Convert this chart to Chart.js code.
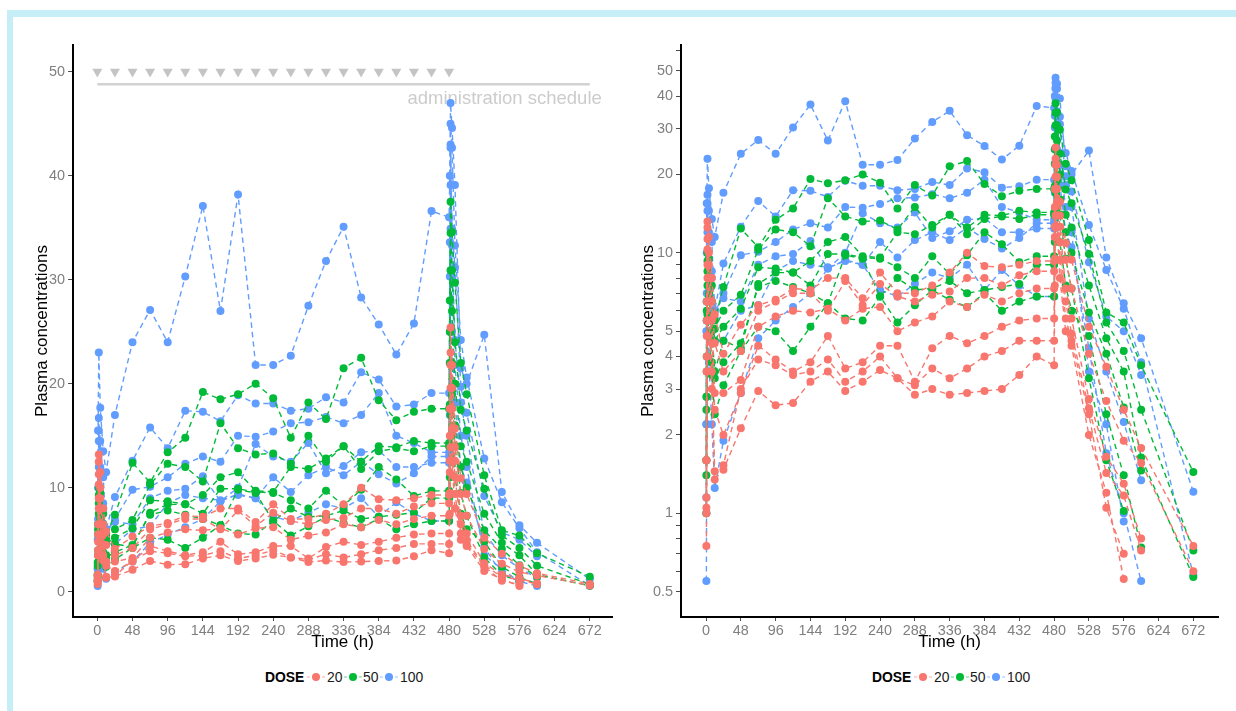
<!DOCTYPE html>
<html>
<head>
<meta charset="utf-8">
<script src="https://cdn.jsdelivr.net/npm/chart.js"></script>
<style>
  html, body { margin:0; padding:0; }
  body { width:1236px; height:711px; background:#fff; position:relative; overflow:hidden;
         font-family:"Liberation Sans", Arial, Helvetica, sans-serif; }
  #frameTop { position:absolute; left:7px; top:10px; width:1229px; height:7px; background:#c6eef6; }
  #frameLeft { position:absolute; left:7px; top:10px; width:6px; height:701px; background:#c6eef6; }
  canvas { position:absolute; top:0; }
  #cL { left:0; }
  #cR { left:618px; }
  .lg { position:absolute; top:667px; height:20px; width:200px; }
  .lg span { position:absolute; top:0; line-height:20px; font-size:13.9px; color:#1a1a1a; white-space:nowrap; }
  .lg span.b { font-weight:bold; color:#000; }
  .lg svg { position:absolute; top:4px; }
</style>
</head>
<body>
<div id="frameTop"></div>
<div id="frameLeft"></div>
<canvas id="cL" width="618" height="660"></canvas>
<canvas id="cR" width="618" height="660"></canvas>
<div class="lg" id="lgL" style="left:265px"></div>
<div class="lg" id="lgR" style="left:872px"></div>
<script>
// ---------------- DATA ----------------
const times = [0.5, 1, 2, 4, 8, 12, 24, 48, 72, 96, 120, 144, 168, 192, 216, 240, 264, 288, 312, 336, 360, 384, 408, 432, 456, 480, 481, 482, 484, 488, 496, 504, 528, 552, 576, 600, 672];

const doseLevels = ['20', '50', '100'];
const doseColors = ['#F8766D', '#00BA38', '#619CFF'];

// DOSE 20
const d20_s1 = [1.6, 6.5, 13.2, 11.5, 8.0, 5.8, 4.1,  5.3, 6.3, 6.6, 7.3, 7.2, 8.0, 8.0, 6.7, 8.4, 7.0, 7.0, 7.5, 8.4, 10.0, 8.9, 8.8, 9.0, 9.3,  9.3, 17.6, 25.4, 21.8, 15.7, 10.9, 9.4, 5.2, 3.65, 2.5, 1.78, 0.75];
const d20_s2 = [1.15, 5.5, 12.5, 10.0, 6.5, 4.5, 3.5,  4.2, 6.0, 6.5, 7.0, 7.0, 6.0, 7.8, 6.3, 7.6, 6.8, 6.5, 6.9, 7.1, 8.0, 8.0, 7.5, 8.2, 8.5,  8.5, 15.0, 23.0, 19.6, 13.9, 9.4, 7.3, 4.1, 2.7, 1.9, 1.56, 0.60];
const d20_s3 = [1.05, 4.8, 11.3, 9.0, 5.5, 2.9, 2.9,  3.25, 5.2, 5.7, 6.0, 5.9, 6.1, 5.5, 6.1, 6.2, 5.0, 5.4, 5.7, 6.5, 6.2, 6.9, 6.5, 7.0, 7.3,  7.3, 12.6, 21.8, 17.6, 12.6, 7.3, 5.6, 2.75, 1.65, 1.3, 0.8, null];
const d20_s4 = [0.75, 3.5, 10.3, 8.0, 4.5, 2.5, 2.0,  2.9, 4.4, 3.9, 3.5, 3.8, 4.8, 3.6, 3.8, 4.4, 4.4, 3.2, 4.3, 4.8, 4.5, 4.8, 5.2, 5.5, 5.6,  5.6, 11.5, 19.6, 15.7, 11.0, 6.5, 4.9, 2.53, 1.43, 1.17, 0.72, null];
const d20_s5 = [1.6, 4.0, 9.0, 6.5, 3.5, 1.45, 1.53,  3.0, 3.9, 3.7, 3.4, 3.5, 3.9, 3.2, 3.5, 4.0, 3.3, 3.1, 3.6, 3.3, 3.6, 4.0, 4.2, 4.6, 4.6,  4.6, 9.5, 17.6, 13.9, 9.4, 5.6, 4.6, 2.4, 1.05, 0.70, null, null];
const d20_s6 = [1.0, 3.5, 8.0, 5.5, 3.0, 1.35, 1.47,  2.12, 2.95, 2.6, 2.65, 3.2, 3.5, 2.95, 3.2, 3.55, 3.3, 2.85, 3.0, 2.85, 2.9, 2.95, 3.0, 3.4, 4.0,  3.7, 7.5, 13.9, 12.6, 8.0, 5.0, 4.4, 2.0, 1.2, 0.56, null, null];

// DOSE 50
const d50_s1 = [2.8, 6.5, 10.0, 9.5, 7.5, 5.5, 7.4,  12.4, 10.5, 13.4, 14.8, 19.2, 18.5, 19.0, 20.0, 18.6, 14.8, 18.2, 16.6, 21.5, 22.5, 18.4, 16.5, 17.3, 17.6,  17.6, 28.0, 37.5, 34.6, 29.7, 22.0, 19.0, 11.2, 5.9, 5.4, 3.7, 1.44];
const d50_s2 = [1.6, 5.5, 9.3, 8.0, 6.5, 5.1, 6.0,  6.9, 10.3, 12.3, 12.0, 10.6, 16.2, 13.8, 13.2, 13.3, 12.3, 15.0, 12.5, 14.0, 11.8, 13.5, 13.8, 13.5, 14.0,  14.0, 25.0, 34.5, 30.9, 24.0, 17.5, 15.5, 9.9, 5.4, 4.2, 2.5, 0.72];
const d50_s3 = [2.5, 6.0, 8.5, 7.0, 5.5, 4.6, 5.2,  6.1, 8.8, 8.7, 8.4, 9.3, 11.0, 11.5, 9.7, 9.6, 12.0, 11.8, 12.8, 14.0, 12.5, 14.0, 13.9, 14.5, 14.3,  14.3, 22.0, 30.9, 27.0, 20.0, 14.0, 12.5, 7.5, 4.7, 3.5, 1.64, 0.57];
const d50_s4 = [1.4, 4.0, 7.5, 6.8, 5.0, 3.5, 4.6,  4.3, 7.6, 8.4, 8.4, 7.5, 9.9, 9.9, 9.6, 9.5, 8.8, 8.0, 9.7, 8.3, 9.8, 12.0, 10.8, 9.2, 9.7,  9.7, 18.0, 25.0, 22.0, 16.0, 12.0, 10.0, 5.9, 4.1, 2.55, 1.46, null];
const d50_s5 = [1.0, 3.5, 6.5, 5.5, 3.8, 3.3, 3.8,  4.5, 7.4, 7.8, 7.4, 7.0, 6.4, 9.8, 9.5, 6.8, 8.0, 7.2, 7.3, 7.8, 7.0, 7.2, 7.4, 7.6, 9.0,  9.0, 14.0, 22.0, 19.0, 14.0, 9.5, 7.3, 3.3, 1.6, 1.02, null, null];
const d50_s6 = [1.6, 2.8, 5.8, 4.8, 3.4, 2.4, 3.1,  4.2, 5.2, 5.0, 4.2, 5.2, 6.4, 5.6, 5.5, 6.8, 5.4, 6.3, 7.2, 6.6, 6.2, 7.0, 6.0, 6.5, 6.8,  6.8, 11.0, 17.0, 15.0, 11.0, 7.5, 6.0, 4.8, 2.4, 1.4, 0.74, null];

// DOSE 100
const d100_s1 = [5.0, 15.5, 23.0, 17.7, 13.5, 11.5, 17.0,  24.0, 27.1, 24.0, 30.3, 37.1, 27.0, 38.2, 21.8, 21.8, 22.7, 27.5, 31.8, 35.1, 28.3, 25.7, 22.8, 25.8, 36.6,  36.0, 40.0, 47.0, 44.6, 39.1, 21.5, 20.0, 24.7, 9.6, 6.4, 4.7, 1.21];
const d100_s2 = [1.0, 7.0, 16.7, 14.5, 11.0, 6.0, 9.1,  12.6, 15.8, 13.8, 17.4, 17.3, 16.4, 18.9, 18.1, 18.1, 17.4, 17.6, 18.7, 18.2, 21.1, 20.4, 17.8, 18.0, 19.1,  19.1, 30.3, 45.0, 42.7, 33.3, 24.2, 20.6, 12.8, 8.6, 6.1, 3.8, 0.58];
const d100_s3 = [2.2, 10.0, 15.5, 12.0, 8.5, 5.6, 7.0,  9.8, 10.1, 11.0, 12.3, 13.0, 12.5, 15.0, 14.9, 15.4, 16.2, 16.3, 16.8, 16.2, 17.0, 19.1, 15.0, 14.3, 13.4,  13.4, 33.6, 43.0, 34.9, 31.2, 19.7, 17.2, 9.2, 5.7, 5.0, 3.4, null];
const d100_s4 = [1.15, 6.5, 14.5, 11.5, 8.0, 6.0, 6.7,  6.5, 9.0, 9.7, 9.9, 11.1, 8.7, 10.0, 14.2, 13.0, 12.5, 14.3, 11.4, 12.1, 13.4, 13.6, 12.0, 12.0, 12.4,  12.4, 25.0, 42.7, 33.3, 24.2, 18.2, 15.0, 5.6, 3.5, 2.24, 1.34, null];
const d100_s5 = [2.2, 5.5, 12.0, 9.5, 6.5, 4.6, 4.6,  6.0, 6.3, 8.5, 9.3, 9.0, 8.8, 9.3, 9.0, 11.0, 9.6, 11.2, 12.0, 11.2, 12.5, 11.3, 10.4, 11.4, 13.0,  13.0, 22.0, 39.1, 30.3, 21.8, 15.0, 12.0, 3.5, 2.2, 0.93, null, null];
const d100_s6 = [0.55, 2.2, 5.0, 3.8, 2.2, 1.25, 1.9,  2.9, 4.7, 5.5, 6.2, 7.0, 8.7, 9.4, 9.0, 7.2, 6.8, 7.6, 8.4, 8.0, 9.0, 7.2, 8.6, 7.5, 6.8,  6.8, 17.0, 34.9, 25.0, 18.2, 12.0, 10.5, 4.3, 1.7, 1.0, 0.55, null];

const subjects20 = [d20_s1, d20_s2, d20_s3, d20_s4, d20_s5, d20_s6];
const subjects50 = [d50_s1, d50_s2, d50_s3, d50_s4, d50_s5, d50_s6];
const subjects100 = [d100_s1, d100_s2, d100_s3, d100_s4, d100_s5, d100_s6];

// administration schedule
const doseTimes = [0, 24, 48, 72, 96, 120, 144, 168, 192, 216, 240, 264, 288, 312, 336, 360, 384, 408, 432, 456, 480];
const scheduleMarkerLevel = 50;
const scheduleLineLevel = 48.8;
const scheduleLineEnd = [0, 672];
const scheduleLabel = 'administration schedule';

// tick labels
const xTicks = [0, 48, 96, 144, 192, 240, 288, 336, 384, 432, 480, 528, 576, 624, 672];
const yTicksLinear = [0, 10, 20, 30, 40, 50];
const yTicksLog = [0.5, 0.6, 0.7, 0.8, 0.9, 1, 2, 3, 4, 5, 6, 7, 8, 9, 10, 20, 30, 40, 50, 60];
const yLabelsLog = [0.5, 1, 2, 3, 4, 5, 10, 20, 30, 40, 50];

const xTitle = 'Time (h)';
const yTitle = 'Plasma concentrations';
const legendTitle = 'DOSE';

// ---------------- CHART ----------------
const FONT = '"Liberation Sans", Arial, Helvetica, sans-serif';
Chart.defaults.font.family = FONT;

function subjectDatasets() {
  const sets = [];
  [[subjects20, 0], [subjects50, 1], [subjects100, 2]].forEach(([subs, g]) => {
    subs.forEach(vals => {
      const pts = [];
      times.forEach((t, i) => { if (vals[i] !== null && vals[i] !== undefined) pts.push({x: t, y: vals[i]}); });
      sets.push({
        type: 'line', data: pts,
        borderColor: doseColors[g], backgroundColor: doseColors[g],
        borderWidth: 1.4, borderDash: [5.5, 4],
        pointRadius: 4, pointHoverRadius: 4, pointBorderWidth: 0,
        pointBackgroundColor: doseColors[g], fill: false, tension: 0
      });
    });
  });
  return sets;
}

function axisCommon(extra) {
  return Object.assign({
    grid: { display: true, drawOnChartArea: false, drawTicks: true, tickLength: 5, color: '#4d4d4d', lineWidth: 1 },
    border: { display: true, color: '#000', width: 2 }
  }, extra);
}

function makeChart(canvasId, isLog) {
  const datasets = subjectDatasets();
  const plugins = [];
  if (!isLog) {
    datasets.push({
      type: 'line', data: doseTimes.map(t => ({x: t, y: scheduleMarkerLevel})),
      showLine: false, pointStyle: 'triangle', rotation: 180, pointRadius: 5.8, pointHoverRadius: 5.8,
      pointBackgroundColor: '#c4c4c4', pointBorderWidth: 0, borderColor: '#c4c4c4'
    });
    datasets.push({
      type: 'line', data: scheduleLineEnd.map(t => ({x: t, y: scheduleLineLevel})),
      borderColor: '#d2d2d2', borderWidth: 2.5, pointRadius: 0, pointHoverRadius: 0, fill: false
    });
    plugins.push({
      id: 'adminText',
      beforeDatasetsDraw(chart) {
        const {ctx, scales: {x, y}} = chart;
        ctx.save();
        ctx.font = '18.5px ' + FONT;
        ctx.fillStyle = '#cccccc';
        ctx.textAlign = 'right';
        ctx.textBaseline = 'middle';
        ctx.fillText(scheduleLabel, x.getPixelForValue(672) + 12, y.getPixelForValue(47.35));
        ctx.restore();
      }
    });
  }

  const xScale = axisCommon({
    type: 'linear',
    min: isLog ? -34.5 : -33.2,
    max: isLog ? 706 : 702.3,
    afterBuildTicks: s => { s.ticks = xTicks.map(v => ({value: v})); },
    afterFit: s => { s.height = 43; },
    ticks: { color: '#7f7f7f', font: { size: 14.4 }, padding: 1, maxRotation: 0, autoSkip: false },
    title: { display: true, text: xTitle, color: '#000', font: { size: 17 }, padding: { top: 0, bottom: 7 } }
  });
  xScale.grid = Object.assign({}, xScale.grid, { tickLength: 4 });

  const yScale = axisCommon(isLog ? {
    type: 'logarithmic', min: 0.4, max: 62.8,
    afterBuildTicks: s => { s.ticks = yTicksLog.map(v => ({value: v})); },
    afterFit: s => { s.width = 63; },
    ticks: { color: '#7f7f7f', font: { size: 14.4 }, padding: 3, autoSkip: false,
             callback: v => (yLabelsLog.includes(v) ? String(v) : '') },
    title: { display: true, text: yTitle, color: '#000', font: { size: 17 }, padding: { top: 20, bottom: 0 } }
  } : {
    type: 'linear', min: -2.43, max: 52.57,
    afterBuildTicks: s => { s.ticks = yTicksLinear.map(v => ({value: v})); },
    afterFit: s => { s.width = 73; },
    ticks: { color: '#7f7f7f', font: { size: 14.4 }, padding: 3, autoSkip: false, callback: v => String(v) },
    title: { display: true, text: yTitle, color: '#000', font: { size: 17 }, padding: { top: 32, bottom: 0 } }
  });

  return new Chart(document.getElementById(canvasId), {
    type: 'line',
    data: { datasets },
    options: {
      responsive: false, animation: false, devicePixelRatio: 1, events: [],
      layout: { padding: { left: 0, top: 45, right: isLog ? 18 : 6, bottom: 0 } },
      plugins: { legend: { display: false }, tooltip: { enabled: false } },
      scales: { x: xScale, y: yScale }
    },
    plugins
  });
}

makeChart('cL', false);
makeChart('cR', true);

// ---------------- LEGEND (HTML) ----------------
function buildLegend(id) {
  const el = document.getElementById(id);
  const t = document.createElement('span');
  t.className = 'b'; t.style.left = '0px'; t.textContent = legendTitle;
  el.appendChild(t);
  const keyLeft = [42, 79, 115];
  const labLeft = [62, 98, 135];
  doseLevels.forEach((lv, i) => {
    const ns = 'http://www.w3.org/2000/svg';
    const svg = document.createElementNS(ns, 'svg');
    svg.setAttribute('width', '18'); svg.setAttribute('height', '12');
    svg.style.left = keyLeft[i] + 'px';
    const ln = document.createElementNS(ns, 'line');
    ln.setAttribute('x1', '0'); ln.setAttribute('y1', '6'); ln.setAttribute('x2', '18'); ln.setAttribute('y2', '6');
    ln.setAttribute('stroke', doseColors[i]); ln.setAttribute('stroke-width', '1.2');
    ln.setAttribute('stroke-dasharray', '3 2'); ln.setAttribute('opacity', '0.6');
    const c = document.createElementNS(ns, 'circle');
    c.setAttribute('cx', '9'); c.setAttribute('cy', '6'); c.setAttribute('r', '4'); c.setAttribute('fill', doseColors[i]);
    svg.appendChild(ln); svg.appendChild(c);
    el.appendChild(svg);
    const s = document.createElement('span');
    s.style.left = labLeft[i] + 'px'; s.textContent = lv;
    el.appendChild(s);
  });
}
buildLegend('lgL');
buildLegend('lgR');
</script>
</body>
</html>
